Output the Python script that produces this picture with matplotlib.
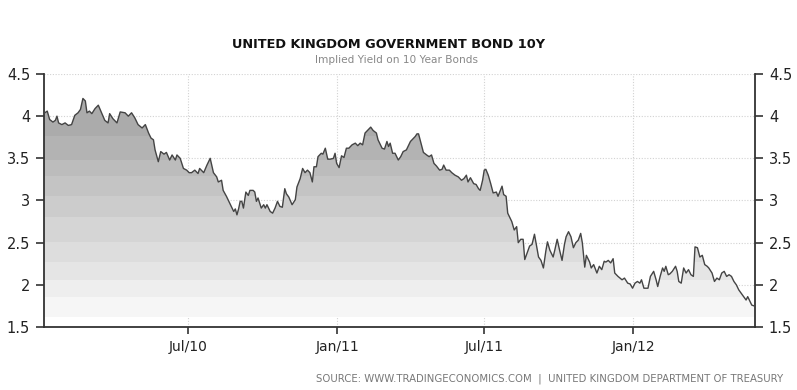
import numpy as np
import pandas as pd
import matplotlib
matplotlib.use("Agg")
import matplotlib.pyplot as plt

# days since 2010-01-04, yield in %
start_date = pd.Timestamp("2010-01-04")
day_offsets = [
    0, 1, 4, 7, 11, 14, 16, 18, 22, 26, 30, 34, 38, 42, 45, 48, 51, 53, 56, 59,
    63, 67, 71, 75, 79, 81, 85, 90, 94, 100, 104, 108, 112, 116, 121, 125, 129, 132, 135, 137,
    141, 144, 148, 151, 155, 158, 162, 164, 168, 172, 176, 179, 182, 186, 190, 192, 197, 201, 205, 209,
    213, 215, 219, 221, 225, 229, 234, 236, 238, 240, 242, 244, 246, 249, 252, 254, 258, 260, 262, 264,
    268, 271, 273, 275, 279, 282, 285, 288, 291, 294, 297, 299, 302, 306, 310, 312, 316, 319, 322, 325,
    328, 331, 333, 336, 338, 342, 344, 347, 350, 353, 357, 359, 361, 364, 367, 370, 373, 376, 380, 384,
    387, 390, 393, 396, 400, 403, 406, 410, 412, 417, 420, 423, 425, 427, 430, 433, 435, 437, 440, 443,
    447, 452, 455, 458, 460, 462, 465, 468, 472, 475, 478, 481, 484, 488, 491, 493, 496, 500, 503, 507,
    511, 515, 518, 521, 523, 526, 530, 533, 536, 538, 541, 543, 545, 548, 551, 554, 558, 560, 565, 567,
    570, 572, 577, 580, 583, 585, 588, 591, 593, 596, 599, 602, 605, 608, 610, 613, 616, 619, 621, 624,
    628, 630, 633, 636, 639, 642, 644, 647, 650, 653, 656, 659, 662, 664, 667, 669, 673, 675, 678, 682,
    685, 688, 691, 693, 696, 699, 702, 704, 708, 713, 716, 720, 723, 726, 729, 732, 735, 737, 740, 745,
    748, 752, 755, 757, 760, 763, 765, 767, 770, 772, 775, 779, 781, 783, 786, 789, 792, 795, 798, 801,
    803, 806, 809, 812, 815, 818, 820, 824, 827, 830, 833, 836, 839, 842, 845, 848, 851, 854, 857, 860,
    863, 866, 868, 871, 873, 876,
]
yields = [
    4.03, 4.04, 4.06, 3.96, 3.93, 3.95, 4.00, 3.92, 3.90, 3.92, 3.89, 3.90, 4.01, 4.04, 4.08, 4.21, 4.18, 4.04, 4.06, 4.03,
    4.09, 4.13, 4.04, 3.95, 3.92, 4.03, 3.97, 3.92, 4.05, 4.04, 4.00, 4.04, 3.98, 3.90, 3.86, 3.90, 3.80, 3.74, 3.72, 3.60,
    3.46, 3.58, 3.55, 3.57, 3.48, 3.54, 3.48, 3.54, 3.50, 3.38, 3.36, 3.33, 3.33, 3.36, 3.32, 3.38, 3.33, 3.42, 3.50, 3.33,
    3.28, 3.22, 3.24, 3.12, 3.05, 2.97, 2.87, 2.90, 2.83, 2.90, 2.99, 2.99, 2.91, 3.10, 3.06, 3.12, 3.12, 3.10, 2.99, 3.03,
    2.91, 2.95, 2.91, 2.95, 2.87, 2.85, 2.91, 2.99, 2.93, 2.92, 3.14, 3.08, 3.04, 2.95, 3.01, 3.16, 3.26, 3.38, 3.33, 3.36,
    3.33, 3.22, 3.40, 3.40, 3.52, 3.56, 3.55, 3.62, 3.49, 3.49, 3.50, 3.56, 3.44, 3.39, 3.53, 3.51, 3.62, 3.62, 3.66, 3.68,
    3.65, 3.68, 3.66, 3.80, 3.84, 3.87, 3.83, 3.80, 3.72, 3.62, 3.61, 3.70, 3.64, 3.68, 3.56, 3.56, 3.52, 3.48, 3.52, 3.58,
    3.60, 3.70, 3.73, 3.76, 3.79, 3.79, 3.68, 3.57, 3.54, 3.52, 3.54, 3.44, 3.41, 3.36, 3.37, 3.42, 3.36, 3.36, 3.33, 3.30,
    3.28, 3.24, 3.26, 3.30, 3.22, 3.27, 3.20, 3.19, 3.14, 3.12, 3.24, 3.36, 3.37, 3.30, 3.20, 3.09, 3.10, 3.05, 3.17, 3.07,
    3.05, 2.85, 2.75, 2.65, 2.69, 2.50, 2.54, 2.54, 2.30, 2.38, 2.46, 2.48, 2.60, 2.44, 2.33, 2.29, 2.20, 2.40, 2.51, 2.41,
    2.33, 2.41, 2.54, 2.41, 2.29, 2.48, 2.57, 2.63, 2.57, 2.44, 2.50, 2.53, 2.61, 2.50, 2.21, 2.35, 2.27, 2.20, 2.24, 2.14,
    2.22, 2.18, 2.28, 2.27, 2.29, 2.26, 2.31, 2.14, 2.10, 2.06, 2.08, 2.02, 2.01, 1.96, 2.02, 2.04, 2.02, 2.06, 1.96, 1.96,
    2.10, 2.16, 2.06, 1.98, 2.10, 2.20, 2.16, 2.22, 2.12, 2.13, 2.16, 2.22, 2.16, 2.04, 2.02, 2.20, 2.14, 2.18, 2.12, 2.10,
    2.45, 2.44, 2.33, 2.35, 2.24, 2.22, 2.20, 2.14, 2.04, 2.08, 2.06, 2.14, 2.16, 2.10, 2.12, 2.10, 2.04, 2.00, 1.94, 1.90,
    1.86, 1.82, 1.86, 1.80, 1.76, 1.75,
]
tick_dates = ["2010-07-01", "2011-01-01", "2011-07-01", "2012-01-01"]
tick_labels = ["Jul/10", "Jan/11", "Jul/11", "Jan/12"]

dates = start_date + pd.to_timedelta(day_offsets, unit="D")

fig = plt.figure(figsize=(7.97, 3.9), dpi=100)
ax = fig.add_axes([0.0552, 0.1615, 0.8921, 0.6488])

# banded grey fill under the line, darker toward the top
fill_base = 1.62
poly = ax.fill_between(dates, yields, fill_base, facecolor="none", edgecolor="none")
band_edges = [1.62, 1.85, 2.06, 2.27, 2.51, 2.80, 3.05, 3.29, 3.48, 3.76, 4.5]
greys = np.linspace(0.965, 0.67, len(band_edges) - 1)
clip = poly.get_paths()[0]
for lo, hi, g in zip(band_edges[:-1], band_edges[1:], greys):
    band = ax.axhspan(lo, hi, color=(g, g, g), lw=0, zorder=1)
    band.set_clip_path(clip, ax.transData)

ax.plot(dates, yields, color="#444444", lw=1.0, zorder=3)

ax.set_xlim(start_date, start_date + pd.Timedelta(days=877))
ax.set_ylim(1.5, 4.5)
ax.set_yticks([1.5, 2, 2.5, 3, 3.5, 4, 4.5])
ax.set_yticklabels(["1.5", "2", "2.5", "3", "3.5", "4", "4.5"])
ax.set_xticks(pd.to_datetime(tick_dates))
ax.set_xticklabels(tick_labels)

ax.grid(True, color="#d2d2d2", linestyle=(0, (1, 1.5)), lw=0.8, zorder=0)
ax.set_axisbelow(True)

for s in ["left", "right", "bottom"]:
    ax.spines[s].set_color("#333333")
    ax.spines[s].set_linewidth(1.3)
ax.spines["top"].set_visible(False)

ax.tick_params(axis="y", which="both", left=True, right=True, labelleft=True, labelright=True,
               direction="out", length=6, width=1.2, color="#333333", labelsize=10.5,
               labelcolor="#222222", pad=4)
ax.tick_params(axis="x", direction="out", length=5, width=1.2, color="#333333",
               labelsize=10, labelcolor="#222222", pad=4)

fig.text(0.487, 0.885, "UNITED KINGDOM GOVERNMENT BOND 10Y", ha="center", va="center",
         fontsize=9.3, fontweight="bold", color="#111111")
fig.text(0.497, 0.846, "Implied Yield on 10 Year Bonds", ha="center", va="center",
         fontsize=7.6, color="#888888")
fig.text(0.983, 0.028, "SOURCE: WWW.TRADINGECONOMICS.COM  |  UNITED KINGDOM DEPARTMENT OF TREASURY",
         ha="right", va="center", fontsize=7.3, color="#777777")

fig.savefig("out.png", dpi=100)
